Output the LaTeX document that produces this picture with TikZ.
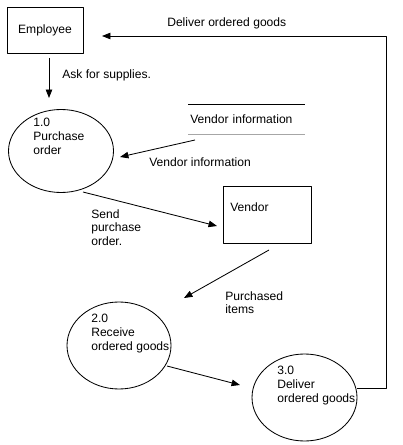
\documentclass[tikz,border=0pt]{standalone}
\usepackage{fontspec}
\setmainfont{Liberation Sans}
\usetikzlibrary{shapes.geometric,arrows.meta}
\begin{document}
\begin{tikzpicture}[x=0.025cm, y=-0.025cm, font=\fontsize{8.6}{9.9}\selectfont,
  line join=round, >={Triangle[length=6pt,width=4.6pt]},
  ent/.style={draw, line width=0.6pt, rectangle, inner sep=0pt},
  proc/.style={draw, line width=0.6pt, ellipse, inner sep=0pt},
  txt/.style={inner sep=0pt, align=left, anchor=north west},
  flow/.style={->, line width=0.6pt}]
\useasboundingbox (0,0) rectangle (402,445);
% entities
\node[ent, minimum width=76*0.025cm, minimum height=46*0.025cm] (emp) at (45,30) {Employee};
\node[ent, minimum width=88*0.025cm, minimum height=57*0.025cm] (vend) at (267,214.5) {};
\node[txt, anchor=west] (vendt) at (230,207) {Vendor};
% data store
\node[inner xsep=2*0.025cm, inner ysep=0pt, text width=112*0.025cm, minimum height=29*0.025cm, anchor=west] (store) at (188,119.5) {Vendor information};
\draw[line width=0.6pt] (store.north west) -- (store.north east);
\draw[line width=0.6pt, gray!70] (store.south west) -- (store.south east);
% processes
\node[proc, minimum width=105*0.025cm, minimum height=83*0.025cm] (p1) at (61,151) {};
\node[proc, minimum width=104*0.025cm, minimum height=87*0.025cm] (p2) at (119,345.5) {};
\node[proc, minimum width=105*0.025cm, minimum height=87*0.025cm] (p3) at (304.5,397.5) {};
\node[txt] (p1t) at (33,118) {1.0\\Purchase\\order};
\node[txt] (p2t) at (91,314) {2.0\\Receive\\ordered goods};
\node[txt] (p3t) at (277,366) {3.0\\Deliver\\ordered goods};
% flow ends
\coordinate (a1) at (49,58);   \coordinate (b1) at (49,98);
\coordinate (a2) at (195,140); \coordinate (b2) at (120,157);
\coordinate (a3) at (83,192);  \coordinate (b3) at (217,226);
\coordinate (a4) at (269,250); \coordinate (b4) at (184,298);
\coordinate (a5) at (167,366); \coordinate (b5) at (240,385);
\coordinate (a6) at (357,388); \coordinate (c6) at (386,36); \coordinate (b6) at (102,36);
% flows
\draw[flow] (a1) -- (b1);
\draw[flow] (a2) -- (b2);
\draw[flow] (a3) -- (b3);
\draw[flow] (a4) -- (b4);
\draw[flow] (a5) -- (b5);
\draw[flow] (a6) -| (c6) -- (b6);
% flow labels
\node[txt, anchor=west] (l1) at (62,75) {Ask for supplies.};
\node[txt, anchor=west] (l2) at (149,162) {Vendor information};
\node[txt] (l3) at (91,209) {Send\\purchase\\order.};
\node[txt] (l4) at (225,291) {Purchased\\items};
\node[txt, anchor=west] (l6) at (167,23) {Deliver ordered goods};
\end{tikzpicture}
\end{document}
